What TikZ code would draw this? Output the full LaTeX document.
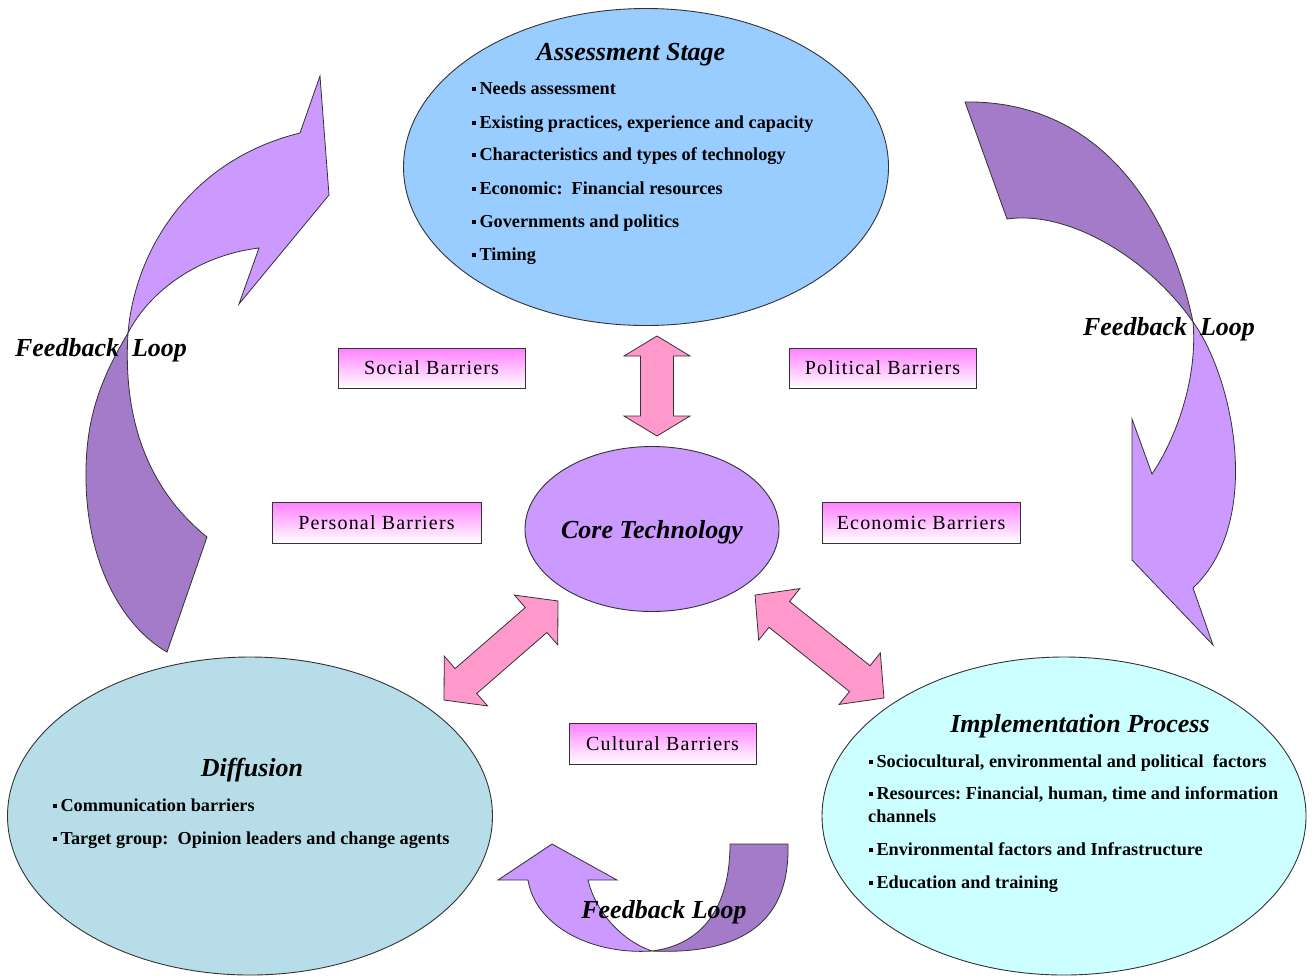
\documentclass[tikz,border=0pt]{standalone}
\usepackage{fontspec}
\setmainfont{Liberation Serif}
\newfontfamily\barfont[LetterSpace=6]{Liberation Serif}
\usetikzlibrary{shapes.geometric}
\definecolor{assessblue}{HTML}{99CCFF}
\definecolor{corepurple}{HTML}{CC99FF}
\definecolor{diffteal}{HTML}{B7DEE8}
\definecolor{implcyan}{HTML}{CCFFFF}
\definecolor{fblight}{HTML}{CC99FF}
\definecolor{fbdark}{HTML}{A37BC8}
\definecolor{arrowpink}{HTML}{FF99CC}
\definecolor{barpink}{HTML}{FF80FF}
\definecolor{outline}{HTML}{333333}
\newcommand{\sqb}{\rule[0.19em]{0.2em}{0.2em}\hspace{0.2em}}
\newcommand{\dblarrow}[5]{%
  \begin{scope}[shift={(#1,#2)},rotate=#3]
    \filldraw[blockarrow] (-#4,0) -- (-#4+#5,33) -- (-#4+#5,16.5) -- (#4-#5,16.5) -- (#4-#5,33) -- (#4,0) -- (#4-#5,-33) -- (#4-#5,-16.5) -- (-#4+#5,-16.5) -- (-#4+#5,-33) -- cycle;
  \end{scope}}
\tikzset{
  stage/.style={ellipse, draw=outline, line width=0.9pt, inner sep=0pt},
  titletext/.style={font=\fontsize{26}{30}\selectfont\bfseries\itshape, inner sep=0pt},
  bullettext/.style={font=\fontsize{18.25}{22}\selectfont\bfseries, anchor=west, inner sep=0pt},
  barrier/.style={rectangle, draw=outline, line width=0.9pt, top color=barpink, bottom color=white, inner sep=0pt, font=\barfont\fontsize{20}{24}\selectfont},
  blockarrow/.style={fill=arrowpink, draw=outline, line width=0.8pt, line join=miter},
  fbl/.style={fill=fblight, draw=outline, line width=0.8pt},
  fbd/.style={fill=fbdark, draw=outline, line width=0.8pt},
  fbtext/.style={font=\fontsize{26}{30}\selectfont\bfseries\itshape, inner sep=0pt},
}
\begin{document}
\begin{tikzpicture}[x=1pt,y=-1pt]
\useasboundingbox[fill=white] (0,0) rectangle (1316,978);

% stages
\node[stage, fill=assessblue, minimum width=485, minimum height=317] (assess) at (646,167) {};
\node[stage, fill=corepurple, minimum width=254, minimum height=165] (core) at (652,529) {};
\node[stage, fill=diffteal, minimum width=485, minimum height=318] (diff) at (250,816) {};
\node[stage, fill=implcyan, minimum width=484, minimum height=318] (impl) at (1064,816) {};

% block double arrows
\dblarrow{657}{386}{90}{50}{20}
\dblarrow{501}{650.5}{41}{75.5}{29}
\dblarrow{819.5}{646.5}{-38.6}{82.5}{31}

% left feedback loop
\coordinate (lp) at (128,333);
\filldraw[fbd] (lp) .. controls (100,380) and (85,420) .. (86,480)
  .. controls (87,560) and (120,625) .. (167,652) -- (207,537)
  .. controls (155,495) and (122,430) .. (lp) -- cycle;
\filldraw[fbl] (lp) .. controls (135,250) and (190,160) .. (300,133)
  -- (320,76) -- (329,195) -- (239,304) -- (259,248)
  .. controls (200,255) and (150,290) .. (lp) -- cycle;

% right feedback loop
\coordinate (rp) at (1193,322);
\filldraw[fbd] (rp) .. controls (1170,210) and (1100,100) .. (965,102)
  -- (1007,219) .. controls (1070,210) and (1150,260) .. (rp) -- cycle;
\filldraw[fbl] (rp) .. controls (1232,375) and (1265,520) .. (1193,588)
  -- (1213,645) -- (1132,560) -- (1132,419) -- (1152,474)
  .. controls (1175,440) and (1198,380) .. (rp) -- cycle;

% bottom feedback loop
\coordinate (bp) at (652,951);
\filldraw[fbd] (730,844) -- (788,844) .. controls (790,920) and (745,955) .. (bp)
  .. controls (700,945) and (730,910) .. (730,844) -- cycle;
\filldraw[fbl] (552,844) -- (617,880) -- (588,880) .. controls (595,910) and (620,940) .. (bp)
  .. controls (590,955) and (535,925) .. (528,880) -- (498,880) -- cycle;

% barriers
\node[barrier, minimum width=187, minimum height=40] (social) at (431.5,368) {\raisebox{-1pt}{Social Barriers}};
\node[barrier, minimum width=187, minimum height=40] (political) at (882.5,368) {\raisebox{-1pt}{Political Barriers}};
\node[barrier, minimum width=209, minimum height=41] (personal) at (376.5,522.5) {\raisebox{-1pt}{Personal Barriers}};
\node[barrier, minimum width=198, minimum height=41] (economic) at (921,522.5) {\raisebox{-1pt}{Economic Barriers}};
\node[barrier, minimum width=187, minimum height=41] (cultural) at (662.5,743.5) {\raisebox{-1pt}{Cultural Barriers}};

% titles
\node[titletext] (assesstitle) at (631,55) {Assessment Stage};
\node[titletext] (coretitle) at (652,532) {Core Technology};
\node[titletext] (difftitle) at (252,770) {Diffusion};
\node[titletext] (impltitle) at (1080,726) {Implementation Process};

% assessment bullets
\node[bullettext] (a1) at (472,90) {\strut\sqb Needs assessment};
\node[bullettext] (a2) at (472,124) {\strut\sqb Existing practices, experience and capacity};
\node[bullettext] (a3) at (472,156) {\strut\sqb Characteristics and types of technology};
\node[bullettext] (a4) at (472,190) {\strut\sqb Economic:\ \ Financial resources};
\node[bullettext] (a5) at (472,223) {\strut\sqb Governments and politics};
\node[bullettext] (a6) at (472,256) {\strut\sqb Timing};

% diffusion bullets
\node[bullettext] (d1) at (53,807) {\strut\sqb Communication barriers};
\node[bullettext] (d2) at (53,840) {\strut\sqb Target group:\ \ Opinion leaders and change agents};

% implementation bullets
\node[bullettext] (i1) at (869,763) {\strut\sqb Sociocultural, environmental and political\ \ factors};
\node[bullettext] (i2) at (869,795) {\strut\sqb Resources:\ Financial, human, time and information};
\node[bullettext] (i2b) at (868,818) {\strut channels};
\node[bullettext] (i3) at (869,851) {\strut\sqb Environmental factors and Infrastructure};
\node[bullettext] (i4) at (869,884) {\strut\sqb Education and training};

% feedback labels
\node[fbtext] (fbleft) at (101,350) {Feedback\ \ Loop};
\node[fbtext] (fbright) at (1169,329) {Feedback\ \ Loop};
\node[fbtext] (fbbottom) at (664,912) {Feedback Loop};
\end{tikzpicture}
\end{document}
